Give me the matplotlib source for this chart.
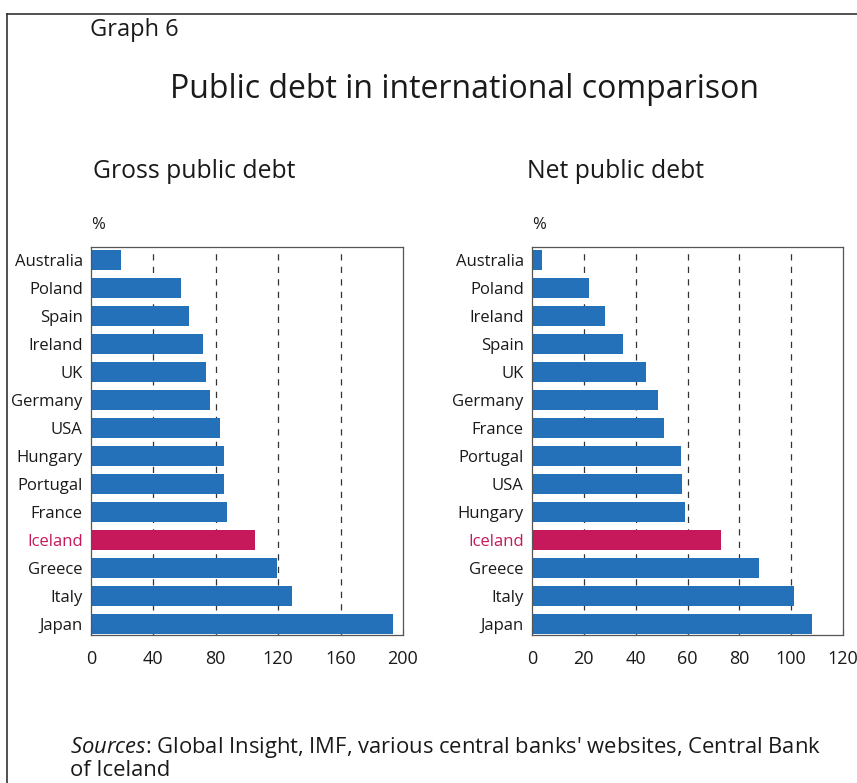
import matplotlib.pyplot as plt
from matplotlib.lines import Line2D

plt.rcParams['font.family'] = ['Open Sans', 'DejaVu Sans']
plt.rcParams['mathtext.fontset'] = 'custom'
plt.rcParams['mathtext.it'] = 'Open Sans:italic'
plt.rcParams['mathtext.rm'] = 'Open Sans'

# Gross public debt, % of GDP
gross_countries = ["Australia", "Poland", "Spain", "Ireland", "UK", "Germany", "USA",
                   "Hungary", "Portugal", "France", "Iceland", "Greece", "Italy", "Japan"]
gross_values = [19, 58, 63, 72, 73.5, 76, 83, 85, 85, 87, 105, 119.5, 129, 193.5]

# Net public debt, % of GDP
net_countries = ["Australia", "Poland", "Ireland", "Spain", "UK", "Germany", "France",
                 "Portugal", "USA", "Hungary", "Iceland", "Greece", "Italy", "Japan"]
net_values = [4, 22, 28, 35, 44, 48.5, 51, 57.5, 58, 59, 73, 87.5, 101, 108]

gross_ticks = [0, 40, 80, 120, 160, 200]
net_ticks = [0, 20, 40, 60, 80, 100, 120]

blue = '#2471b9'
red = '#c5195b'
text_col = '#1a1a1a'

fig = plt.figure(figsize=(8.57, 7.83), dpi=100)
W, H = 857, 783


def panel(left_px, right_px, countries, values, ticks, heading, heading_x):
    ax = fig.add_axes([left_px / W, 1 - 635 / H, (right_px - left_px) / W, 388 / H])
    ypos = list(range(len(countries)))
    colors = [red if c == "Iceland" else blue for c in countries]
    ax.barh(ypos, values, height=0.72, color=colors, zorder=2)
    for t in ticks[1:-1]:
        ax.axvline(t, color='#333333', lw=0.9, ls=(0, (5, 5)), zorder=1)
    ax.set_xlim(ticks[0], ticks[-1])
    ax.set_ylim(len(countries) - 0.6, -0.45)
    ax.set_xticks(ticks)
    ax.set_yticks(ypos)
    ax.set_yticklabels(countries)
    for lab in ax.get_yticklabels():
        if lab.get_text() == "Iceland":
            lab.set_color(red)
        else:
            lab.set_color(text_col)
    ax.tick_params(axis='x', direction='in', length=4, width=0.8, pad=11,
                   labelsize=13, colors='#555555', labelcolor=text_col)
    ax.tick_params(axis='y', length=0, pad=6, labelsize=12)
    for s in ax.spines.values():
        s.set_color('#555555')
        s.set_linewidth(0.9)
        s.set_zorder(3)
    fig.text(left_px / W, 1 - 225 / H, '%', fontsize=12, color=text_col, va='center')
    fig.text(heading_x / W, 1 - 172 / H, heading, fontsize=17.8, color=text_col, va='center')
    return ax


panel(91, 403, gross_countries, gross_values, gross_ticks, "Gross public debt", 93)
panel(532, 843, net_countries, net_values, net_ticks, "Net public debt", 527)

fig.text(90 / W, 1 - 30 / H, "Graph 6", fontsize=17, color=text_col, va='center')
fig.text(465 / W, 1 - 90 / H, "Public debt in international comparison", fontsize=23,
         color=text_col, ha='center', va='center')
fig.text(70 / W, 1 - 747 / H,
         r"$\it{Sources}$: Global Insight, IMF, various central banks' websites, Central Bank",
         fontsize=15.8, color=text_col, va='center')
fig.text(70 / W, 1 - 771 / H, "of Iceland", fontsize=15.8, color=text_col, va='center')

# outer frame: top rule and left rule
fig.add_artist(Line2D([7 / W, 1], [1 - 14 / H, 1 - 14 / H], color='#333333', lw=1.2))
fig.add_artist(Line2D([7 / W, 7 / W], [0, 1 - 14 / H], color='#333333', lw=1.2))

fig.savefig('out.png', dpi=100)
